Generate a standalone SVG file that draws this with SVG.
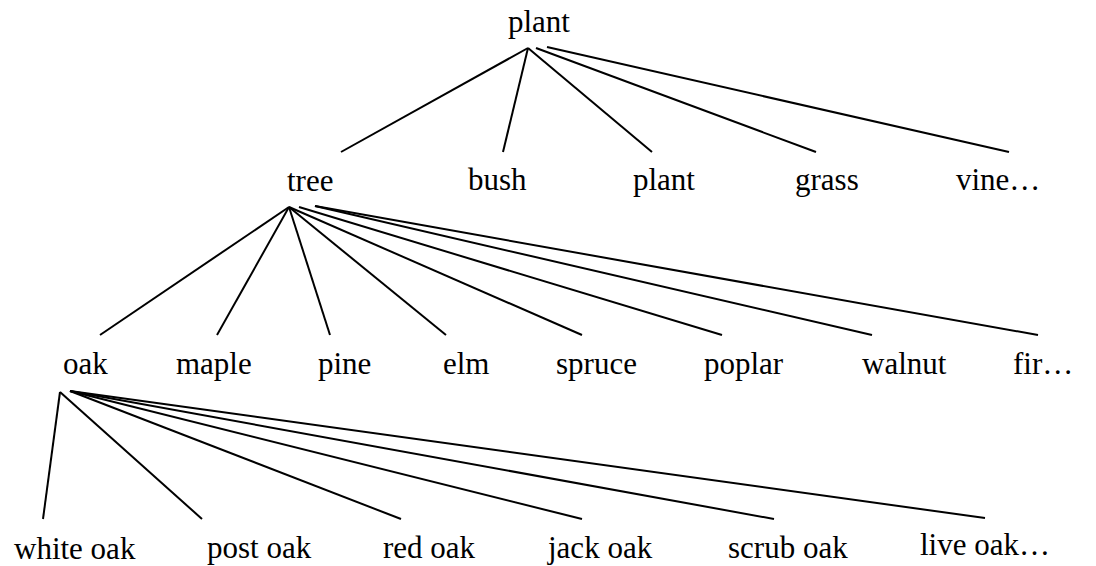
<svg xmlns="http://www.w3.org/2000/svg" width="1096" height="566" viewBox="0 0 1096 566">
<style>
text{font-family:"Liberation Serif","Times New Roman",serif;font-size:31px;fill:#000}
.c line{stroke:#000;stroke-width:2;stroke-linecap:butt}
</style>
<rect width="1096" height="566" fill="#fff"/>
<g id="connectors" class="c">
<line x1="528" y1="48" x2="341" y2="152"/>
<line x1="528" y1="48" x2="503" y2="152"/>
<line x1="528" y1="48" x2="652" y2="152"/>
<line x1="536" y1="48" x2="816" y2="152"/>
<line x1="547" y1="47" x2="1009" y2="152"/>
<line x1="289" y1="207" x2="100" y2="335"/>
<line x1="289" y1="207" x2="217" y2="335"/>
<line x1="289" y1="207" x2="330" y2="335"/>
<line x1="289" y1="207" x2="446" y2="335"/>
<line x1="289" y1="207" x2="582" y2="335"/>
<line x1="299" y1="207" x2="722" y2="335"/>
<line x1="315" y1="206" x2="872" y2="335"/>
<line x1="315" y1="206" x2="1038" y2="335"/>
<line x1="60" y1="392" x2="43" y2="519"/>
<line x1="60" y1="392" x2="202" y2="519"/>
<line x1="70" y1="391" x2="401" y2="519"/>
<line x1="70" y1="391" x2="582" y2="519"/>
<line x1="70" y1="391" x2="774" y2="519"/>
<line x1="70" y1="391" x2="985" y2="518"/>
</g>
<g id="n-plant"><text x="508" y="32">plant</text></g>
<g id="n-tree"><text x="287" y="191">tree</text></g>
<g id="n-bush"><text x="468" y="190">bush</text></g>
<g id="n-plant2"><text x="633" y="190">plant</text></g>
<g id="n-grass"><text x="795" y="190">grass</text></g>
<g id="n-vine"><text x="956" y="190">vine…</text></g>
<g id="n-oak"><text x="63" y="374">oak</text></g>
<g id="n-maple"><text x="176" y="374">maple</text></g>
<g id="n-pine"><text x="318" y="374">pine</text></g>
<g id="n-elm"><text x="443" y="374">elm</text></g>
<g id="n-spruce"><text x="556" y="374">spruce</text></g>
<g id="n-poplar"><text x="704" y="374">poplar</text></g>
<g id="n-walnut"><text x="862" y="374">walnut</text></g>
<g id="n-fir"><text x="1013" y="374">fir…</text></g>
<g id="n-whiteoak"><text x="14" y="559">white oak</text></g>
<g id="n-postoak"><text x="207" y="558">post oak</text></g>
<g id="n-redoak"><text x="383" y="558">red oak</text></g>
<g id="n-jackoak"><text x="548" y="558">jack oak</text></g>
<g id="n-scruboak"><text x="728" y="558">scrub oak</text></g>
<g id="n-liveoak"><text x="920" y="555">live oak…</text></g>
</svg>
